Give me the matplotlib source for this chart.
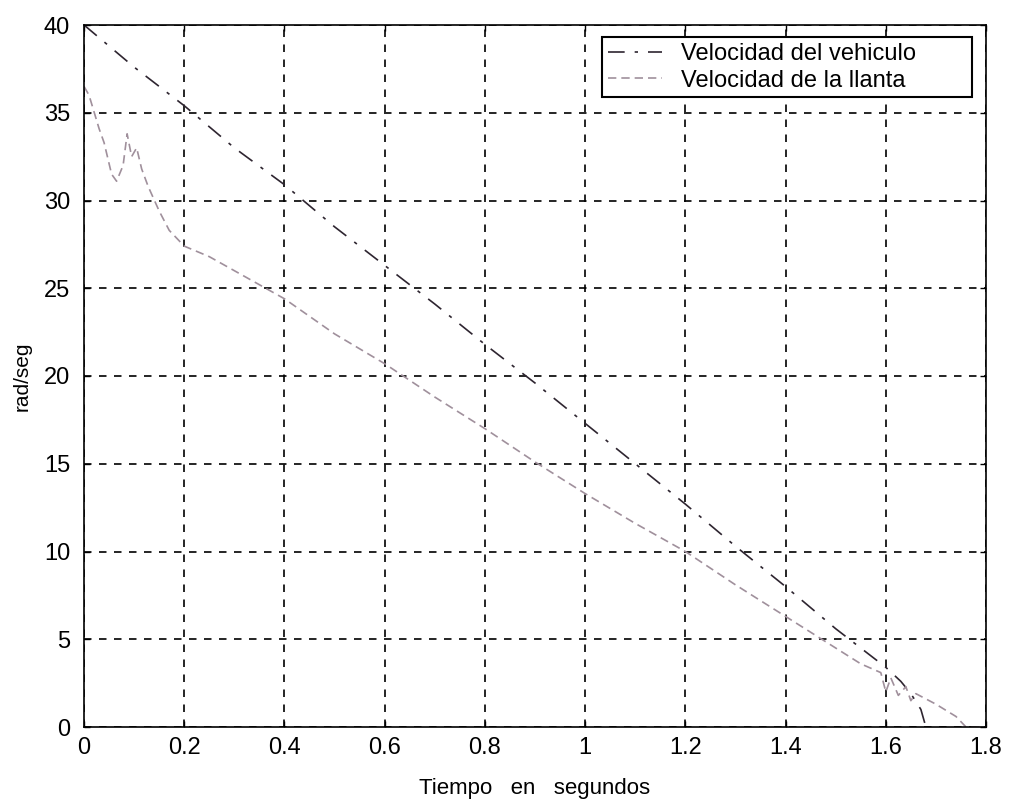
import matplotlib
matplotlib.use("Agg")
import matplotlib.pyplot as plt

# velocidad del vehiculo
t_vehiculo = [0.0, 0.1, 0.2, 0.3, 0.4, 0.5, 0.6, 0.7, 0.8, 0.9, 1.0, 1.1,
              1.2, 1.3, 1.4, 1.45, 1.5, 1.55, 1.6, 1.63, 1.65, 1.67, 1.68]
v_vehiculo = [40.0, 37.6, 35.4, 33.0, 30.9, 28.5, 26.3, 24.1, 21.8, 19.6,
              17.3, 15.0, 12.7, 10.3, 8.0, 6.8, 5.6, 4.5, 3.4, 2.6, 1.9,
              1.0, 0.0]

# velocidad de la llanta
t_llanta = [0.0, 0.01, 0.03, 0.04, 0.055, 0.065, 0.078, 0.086, 0.095, 0.105,
            0.115, 0.128, 0.15, 0.17, 0.2, 0.25, 0.3, 0.4, 0.5, 0.6, 0.7,
            0.8, 0.9, 1.0, 1.1, 1.2, 1.3, 1.4, 1.5, 1.55, 1.59, 1.6, 1.61,
            1.625, 1.64, 1.65, 1.66, 1.7, 1.74, 1.76, 1.8]
v_llanta = [36.5, 36.0, 34.1, 33.3, 31.5, 31.1, 32.0, 33.8, 32.5, 33.0,
            31.8, 30.8, 29.4, 28.3, 27.4, 26.8, 26.0, 24.4, 22.4, 20.7, 18.8,
            17.0, 15.1, 13.3, 11.6, 10.0, 8.1, 6.3, 4.5, 3.6, 3.1, 2.0, 2.8,
            1.8, 2.3, 1.5, 1.9, 1.3, 0.6, 0.0, 0.0]

x_ticks = [0, 0.2, 0.4, 0.6, 0.8, 1.0, 1.2, 1.4, 1.6, 1.8]
x_ticklabels = ["0", "0.2", "0.4", "0.6", "0.8", "1", "1.2", "1.4", "1.6", "1.8"]
y_ticks = [0, 5, 10, 15, 20, 25, 30, 35, 40]


def plot():
    plt.rcParams["font.family"] = ["Liberation Sans", "DejaVu Sans"]
    plt.rcParams["font.size"] = 17

    fig = plt.figure(figsize=(10.16, 8), dpi=100)
    ax = fig.add_axes([0.0827, 0.09125, 0.8878, 0.8775])

    # curvas
    ax.plot(t_vehiculo, v_vehiculo, color="#2e2530", lw=1.2,
            linestyle=(0, (10, 6, 2, 6)), label="Velocidad del vehiculo")
    ax.plot(t_llanta, v_llanta, color="#a0909c", lw=1.2,
            linestyle=(0, (5, 3)), label="Velocidad de la llanta")

    ax.set_xlim(0, 1.8)
    ax.set_ylim(0, 40)
    ax.set_xticks(x_ticks)
    ax.set_xticklabels(x_ticklabels)
    ax.set_yticks(y_ticks)
    ax.tick_params(direction="in", top=True, right=True, length=4,
                   width=1, labelsize=17)
    ax.tick_params(axis="x", pad=7)
    ax.tick_params(axis="y", pad=10)

    ax.grid(True, color="black", lw=1.2, linestyle=(0, (4.5, 4.5)))
    for s in ax.spines.values():
        s.set_linewidth(1.2)
        s.set_color("black")

    ax.set_xlabel("Tiempo   en   segundos", fontsize=16, labelpad=14)
    ax.set_ylabel("rad/seg", fontsize=15, labelpad=9)

    leg = ax.legend(loc="upper left", bbox_to_anchor=(0.574, 0.883, 0.411, 0.1),
                    mode="expand", borderaxespad=0, fancybox=False,
                    edgecolor="black", framealpha=1, fontsize=17,
                    borderpad=0.25, labelspacing=0.2, handlelength=2.3,
                    handletextpad=0.8)
    leg.get_frame().set_linewidth(1.5)

    fig.savefig("out.png", dpi=100)


if __name__ == "__main__":
    plot()
    plt.close()
